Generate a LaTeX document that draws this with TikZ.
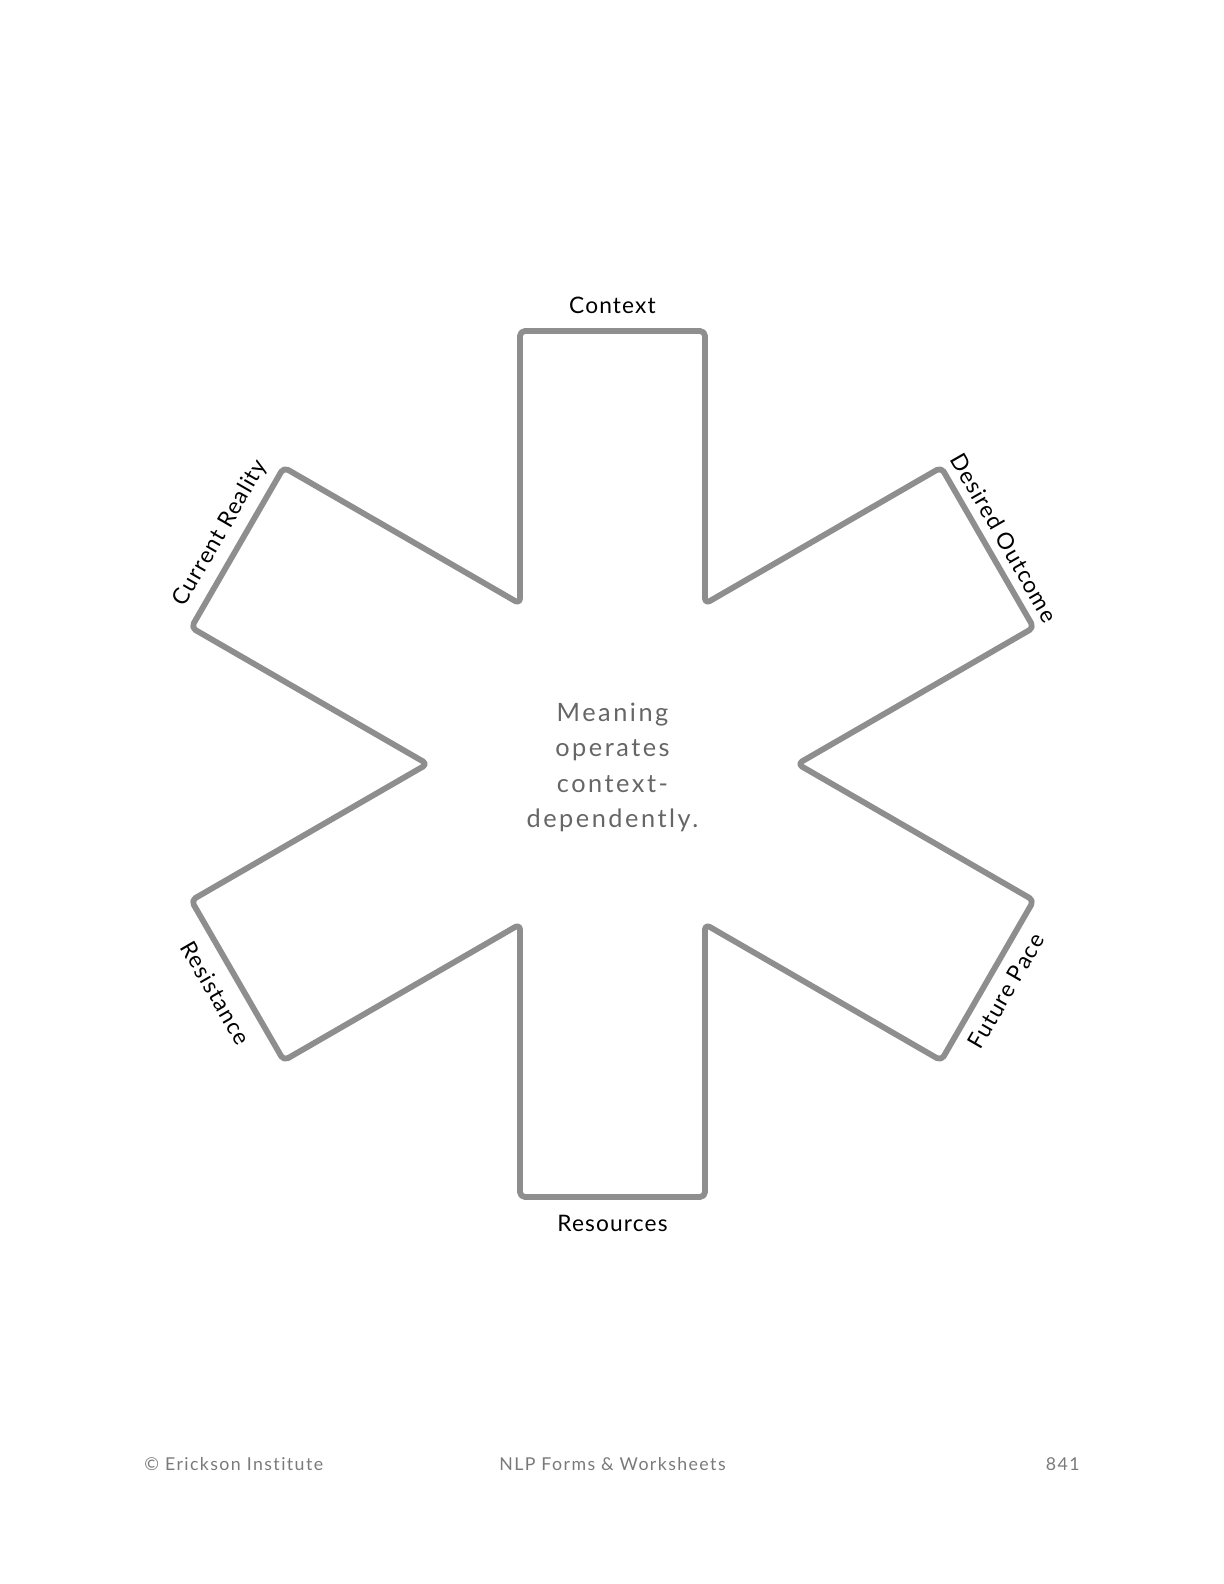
\documentclass[tikz,border=0pt]{standalone}
\usepackage{fontspec}
\setmainfont{Lato}
\newfontfamily\labfont[LetterSpace=5,Ligatures=NoCommon]{Lato}
\newfontfamily\midfont[LetterSpace=10,Ligatures=NoCommon]{Lato}
\newfontfamily\footfont[LetterSpace=8,Ligatures=NoCommon]{Lato}
\definecolor{starline}{HTML}{8E8E8E}
\definecolor{midtext}{HTML}{666666}
\definecolor{foottext}{HTML}{7A7A7A}
\tikzset{
  starpath/.style={draw=starline, line width=2.9bp, rounded corners=2.5bp, line join=round},
  armlabel/.style={font=\labfont\fontsize{11.4}{13}\selectfont, text=black, inner sep=0pt, anchor=center},
  midlabel/.style={font=\midfont\fontsize{12.7}{17.85}\selectfont, text=midtext, align=center, inner sep=0pt},
  footlabel/.style={font=\footfont\fontsize{8.9}{10}\selectfont, text=foottext, inner sep=0pt}
}
\begin{document}
\begin{tikzpicture}[x=0.5bp,y=0.5bp]
\useasboundingbox (-612.5,-820) rectangle (611.5,764);
% star outline
\draw[starpath]
  (92.5,160.2) -- (92.5,433) -- (-92.5,433) -- (-92.5,160.2)
  -- (-328.74,296.61) -- (-421.24,136.39) -- (-185,0)
  -- (-421.24,-136.39) -- (-328.74,-296.61) -- (-92.5,-160.2)
  -- (-92.5,-433) -- (92.5,-433) -- (92.5,-160.2)
  -- (328.74,-296.61) -- (421.24,-136.39) -- (185,0)
  -- (421.24,136.39) -- (328.74,296.61) -- cycle;
% arm labels
\node[armlabel] (ctx) at (90:459) {Context};
\node[armlabel] (res) at (270:459) {Resources};
\node[armlabel, rotate=60] (cur) at (149.5:455) {Current Reality};
\node[armlabel, rotate=-60] (des) at (30:452.5) {Desired Outcome};
\node[armlabel, rotate=-60] (rst) at (210:458) {Resistance};
\node[armlabel, rotate=60] (fut) at (330:454.5) {Future Pace};
% centre text
\node[midlabel] (mid) at (0,-3.5) {Meaning\\operates\\context-\\dependently.};
% footer
\node[footlabel, anchor=west] (f1) at (-468.5,-700) {© Erickson Institute};
\node[footlabel] (f2) at (0,-700) {NLP Forms \& Worksheets};
\node[footlabel, anchor=east] (f3) at (467.5,-700) {841};
\end{tikzpicture}
\end{document}
